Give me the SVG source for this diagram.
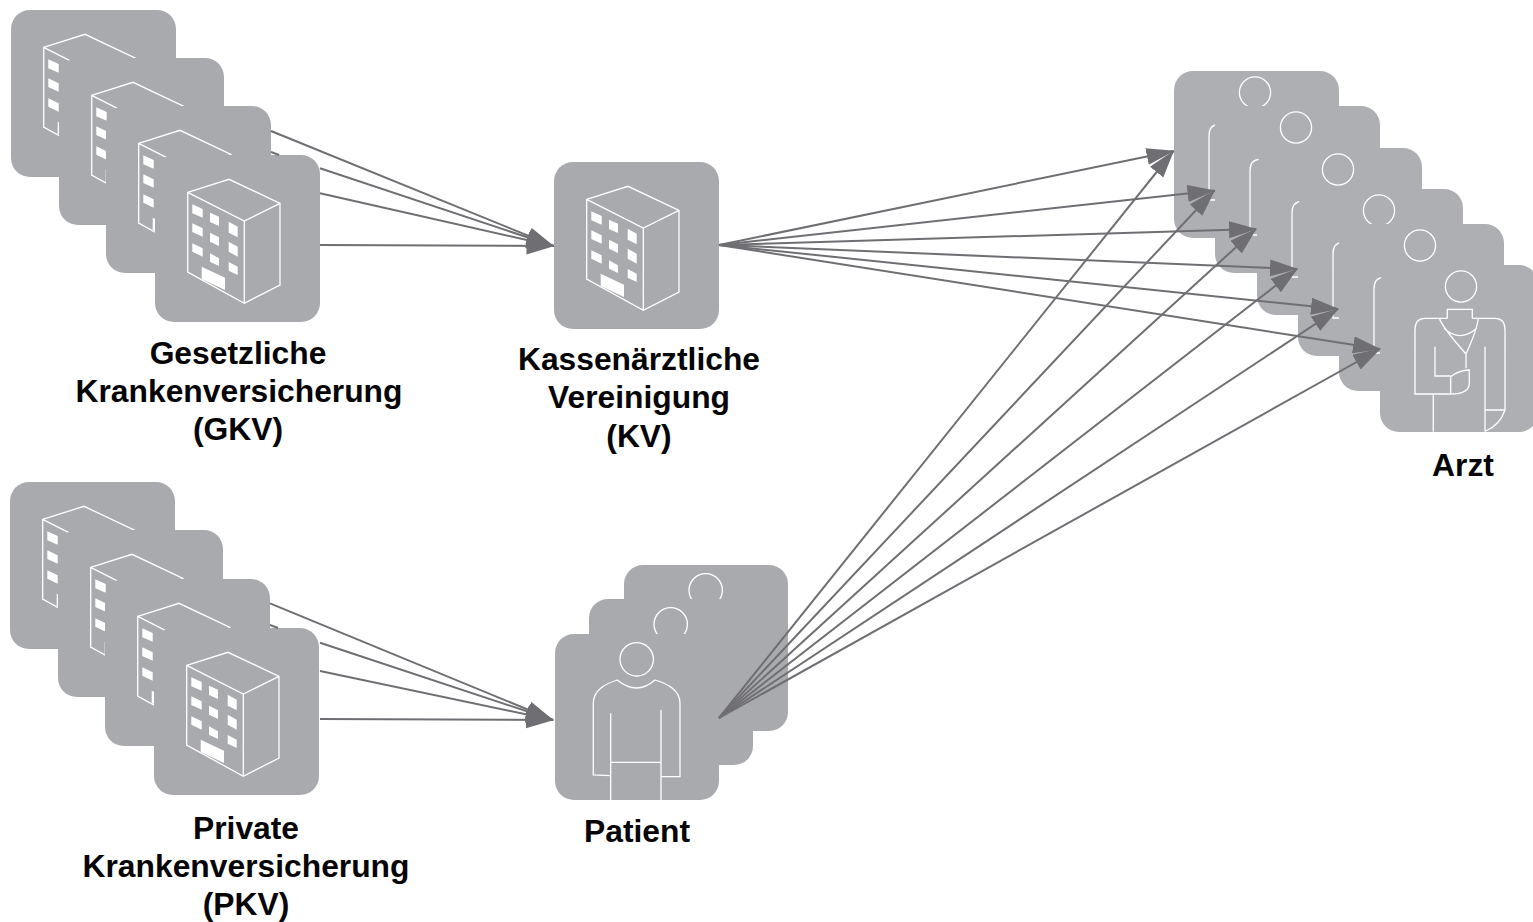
<svg xmlns="http://www.w3.org/2000/svg" width="1533" height="922" viewBox="0 0 1533 922">
<style>
.tile{fill:#a9aaae}
.dtile{fill:#aeafb2}
.art{fill:none;stroke:#fff;stroke-width:1.3}
.win{fill:#fff;stroke:none}
.lbl{font-family:"Liberation Sans",Arial,sans-serif;font-weight:700;font-size:31.8px;fill:#050505;text-anchor:middle}
.conn path{fill:none;stroke:#6f6f73;stroke-width:2;marker-end:url(#head)}
</style>
<defs>
<marker id="head" markerUnits="userSpaceOnUse" markerWidth="30" markerHeight="20" refX="27" refY="8.5" orient="auto"><path d="M0,0L28,8.5L0,17z" fill="#6f6f73"/></marker>
<g id="building">
<rect class="tile" width="165" height="167" rx="19"/>
<path class="art" d="M32.7,37.3L74,24.3L125,48.3V130L89.3,148.3L32.7,117zM32.7,37.3L89.3,66L125,48.3M89.3,66V148.3"/>
<path class="win" d="M37.3,49.3L47.7,54V62.7L37.3,58.3zM37.3,68.3L47.7,73.3V81.7L37.3,77zM37.3,88.3L47.7,93.3V101.7L37.3,96.7zM55,57.7L64,61.7V71L55,67zM55,77.7L64,82.3V91L55,86.7zM55,98.3L64,103.3V111L55,106.7zM73.7,66.7L82.7,71.7V82.3L73.7,77.7zM73.7,86.7L82.7,91.7V101.7L73.7,96.7zM73.7,107L82.7,111.7V120L73.7,115.7zM46.7,111.7L70,122.7V135L46.7,124z"/>
</g>
<g id="person">
<rect class="tile" width="164" height="166" rx="19"/>
<circle class="art" cx="81.7" cy="25.3" r="16.7"/>
<path class="art" d="M55.7,141.7L38.3,141V69.3C38.3,56 50,50 62.3,46Q81.7,62 100,46C113,50 125,56 125,69.3V142.7H106.7M55.7,79.3V166M106,76V166M55.7,128.3H106"/>
</g>
<g id="doctor-art">
<circle class="art" cx="81" cy="21.5" r="15.6"/>
<path class="art" d="M67.3,53.3V44.3H92.3V53.3M67.3,53.3H45Q35,53.3 35,65V129H70.7C80,129 89.3,127 89.3,118V105Q78,105.5 70.7,111.7V129M55,81.7V111H70.7M92.3,53.3H115Q125,53.3 125,65V145H105.7M105,81.7V166.7M125,145Q120,160 105.7,166M53.3,129V166.7M59.3,53.3Q62,62 86,89Q97,65 98.3,53.3M64,63.3Q80,78 96.7,63.3M86,89V103.3"/>
</g>
<g id="doctor">
<rect class="dtile" width="165" height="167" rx="19"/>
<use href="#doctor-art"/>
</g>
</defs>
<g id="gkv-1"><use href="#building" x="11" y="10"/></g>
<g id="gkv-2"><use href="#building" x="59" y="58"/></g>
<g id="gkv-3"><use href="#building" x="106" y="106"/></g>
<g id="gkv-4"><use href="#building" x="155" y="155"/></g>
<g id="pkv-1"><use href="#building" x="10" y="482"/></g>
<g id="pkv-2"><use href="#building" x="58" y="530"/></g>
<g id="pkv-3"><use href="#building" x="105" y="579"/></g>
<g id="pkv-4"><use href="#building" x="154" y="628"/></g>
<g id="kv"><use href="#building" x="554" y="162"/></g>
<g id="patient-3"><use href="#person" x="624" y="565"/></g>
<g id="patient-2"><use href="#person" x="589" y="599"/></g>
<g id="patient-1"><use href="#person" x="555" y="634"/></g>
<g id="arzt-1"><use href="#doctor" x="1174" y="71"/></g>
<g id="arzt-2"><use href="#doctor" x="1215" y="106"/></g>
<g id="arzt-3"><use href="#doctor" x="1257" y="148"/></g>
<g id="arzt-4"><use href="#doctor" x="1298" y="189"/></g>
<g id="arzt-5"><use href="#doctor" x="1339" y="224"/></g>
<g id="arzt-6"><rect class="dtile" x="1380" y="265" width="158" height="167" rx="19"/><use href="#doctor-art" x="1380" y="265"/></g>
<g id="connectors" class="conn">
<path d="M271,131L553.5,246"/>
<path d="M271,152L279,155M320,168.3L553.5,246"/>
<path d="M320,193.3L553.5,246"/>
<path d="M320,245L553.5,246"/>
<path d="M270,603.3L553,720"/>
<path d="M270,625L278,628M320,642.7L553,720"/>
<path d="M320,671L553,720"/>
<path d="M320,719L553,720"/>
<path d="M719,245L1173.5,151"/>
<path d="M719,245L1214.5,190.5"/>
<path d="M719,245L1256,229"/>
<path d="M719,245L1297,269"/>
<path d="M719,245L1338,309"/>
<path d="M719,245L1380,349"/>
<path d="M719,718L1173.5,151"/>
<path d="M719,718L1214.5,190.5"/>
<path d="M719,718L1256,229"/>
<path d="M719,718L1297,269"/>
<path d="M719,718L1338,309"/>
<path d="M719,718L1380,349"/>
</g>
<g id="labels">
<text class="lbl" x="238" y="364">Gesetzliche</text>
<text class="lbl" x="239" y="402">Krankenversicherung</text>
<text class="lbl" x="238" y="440">(GKV)</text>
<text class="lbl" x="639" y="370">Kassenärztliche</text>
<text class="lbl" x="639" y="408">Vereinigung</text>
<text class="lbl" x="639" y="447">(KV)</text>
<text class="lbl" x="246" y="839">Private</text>
<text class="lbl" x="246" y="877">Krankenversicherung</text>
<text class="lbl" x="246" y="915">(PKV)</text>
<text class="lbl" x="637" y="842">Patient</text>
<text class="lbl" x="1463" y="476">Arzt</text>
</g>
</svg>
